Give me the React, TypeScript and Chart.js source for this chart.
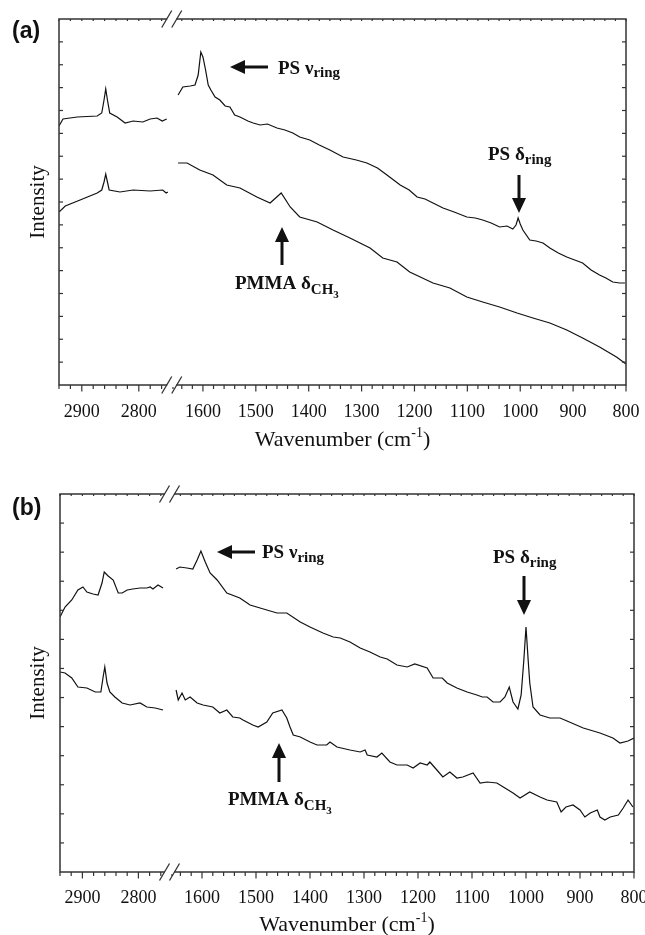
import React, { useEffect, useRef } from "react";
import { Chart, registerables } from "chart.js";

Chart.register(...registerables);

// ---------- axis ticks (wavenumber, cm-1) ----------
const TICKS_HIGH = [2940, 2920, 2900, 2880, 2860, 2840, 2820, 2800, 2780, 2760, 2740];
const TICKS_LOW = [
  1640, 1620, 1600, 1580, 1560, 1540, 1520, 1500, 1480, 1460, 1440, 1420, 1400, 1380, 1360,
  1340, 1320, 1300, 1280, 1260, 1240, 1220, 1200, 1180, 1160, 1140, 1120, 1100, 1080, 1060,
  1040, 1020, 1000, 980, 960, 940, 920, 900, 880, 860, 840, 820, 800,
];
const TICK_LABELS = [2900, 2800, 1600, 1500, 1400, 1300, 1200, 1100, 1000, 900, 800];

// ---------- panel (a) ----------
const A_TOP_WN = [
  2940, 2933, 2908, 2873, 2865, 2861, 2858, 2855, 2851, 2838, 2824, 2810, 2793, 2780, 2768, 2759, 2751,
  1647, 1638, 1624, 1615, 1609, 1604, 1600, 1595, 1590, 1585, 1577, 1568, 1558, 1549, 1540, 1530,
  1515, 1505, 1492, 1478, 1460, 1445, 1430, 1417, 1398, 1380, 1360, 1335, 1310, 1290, 1270, 1252,
  1227, 1210, 1195, 1180, 1165, 1146, 1125, 1101, 1085, 1071, 1055, 1039, 1025, 1014, 1008, 1004,
  1000, 995, 982, 970, 957, 944, 928, 912, 897, 882, 866, 850, 838, 825, 812, 802,
];
const A_TOP_INT = [
  259, 266, 268, 269, 272, 285, 296, 285, 272, 268, 262, 264, 263, 266, 267, 264, 266,
  290, 298, 299, 300, 310, 333, 328, 315, 300, 295, 288, 285, 279, 278, 270, 268,
  264, 262, 260, 261, 257, 255, 252, 248, 245, 240, 235, 228, 225, 222, 217, 210,
  200, 195, 188, 186, 182, 177, 173, 168, 167, 165, 162, 158, 159, 156, 160, 167,
  161, 155, 145, 144, 142, 137, 132, 128, 125, 122, 115, 110, 107, 103, 102, 102,
];
const A_BOT_WN = [
  2940, 2929, 2903, 2873, 2865, 2861, 2858, 2855, 2852, 2833, 2810, 2780, 2758, 2752, 2749,
  1647, 1630, 1606, 1581, 1555, 1530, 1498, 1473, 1452, 1435, 1417, 1384, 1354, 1322, 1284,
  1260, 1233, 1209, 1165, 1133, 1101, 1071, 1039, 1006, 976, 944, 912, 882, 850, 818, 800,
];
const A_BOT_INT = [
  173, 179, 185, 192, 195, 203, 211, 203, 195, 193, 195, 194, 195, 192, 193,
  222, 222, 215, 210, 200, 197, 188, 182, 192, 178, 168, 163, 155, 147, 137,
  127, 123, 113, 102, 97, 88, 83, 78, 72, 67, 62, 55, 47, 38, 28, 21,
];

// ---------- panel (b) ----------
const B_TOP_WN = [
  2940, 2931, 2919, 2908, 2899, 2892, 2881, 2872, 2865, 2861, 2854, 2845, 2836, 2829, 2820, 2810,
  2797, 2785, 2779, 2774, 2765, 2756,
  1648, 1641, 1628, 1617, 1609, 1602, 1594, 1585, 1572, 1554, 1530, 1511, 1480, 1461, 1443, 1418,
  1400, 1376, 1357, 1344, 1326, 1307, 1289, 1270, 1257, 1239, 1220, 1206, 1183, 1172, 1155, 1146,
  1128, 1109, 1091, 1081, 1072, 1061, 1048, 1039, 1031, 1024, 1015, 1009, 1004, 1000, 996, 993,
  987, 974, 956, 937, 924, 894, 863, 839, 826, 811, 800,
];
const B_TOP_INT = [
  255, 265, 272, 282, 285, 280, 278, 277, 289, 300, 296, 292, 279, 279, 282, 283,
  284, 284, 285, 283, 287, 284,
  303, 305, 304, 303, 312, 321, 310, 299, 292, 279, 274, 267, 262, 259, 259, 250,
  245, 239, 235, 234, 230, 224, 220, 215, 213, 207, 205, 208, 204, 194, 194, 189,
  184, 180, 177, 175, 175, 170, 170, 175, 185, 170, 163, 177, 212, 245, 212, 189,
  165, 157, 154, 154, 151, 144, 139, 134, 129, 131, 134,
];
const B_BOT_WN = [
  2940, 2931, 2919, 2908, 2892, 2877, 2867, 2863, 2860, 2856, 2851, 2842, 2829, 2815, 2797, 2785,
  2770, 2756,
  1648, 1644, 1637, 1631, 1622, 1609, 1598, 1580, 1567, 1554, 1543, 1530, 1524, 1506, 1496, 1480,
  1469, 1452, 1443, 1437, 1431, 1418, 1400, 1387, 1369, 1363, 1350, 1326, 1307, 1298, 1294, 1276,
  1267, 1252, 1239, 1220, 1209, 1196, 1183, 1178, 1165, 1154, 1141, 1128, 1117, 1098, 1085, 1072,
  1054, 1039, 1024, 1011, 993, 974, 961, 943, 935, 926, 913, 900, 891, 881, 868, 863, 854, 844,
  829, 820, 811, 802,
];
const B_BOT_INT = [
  200, 199, 194, 185, 184, 180, 180, 195, 205, 189, 180, 175, 169, 167, 169, 165,
  164, 162,
  182, 172, 179, 172, 175, 169, 167, 165, 159, 162, 155, 154, 152, 147, 145, 150,
  159, 162, 154, 145, 137, 135, 130, 127, 127, 130, 125, 122, 120, 122, 117, 115,
  119, 110, 107, 107, 104, 109, 107, 110, 102, 95, 100, 94, 95, 99, 89, 90,
  89, 84, 79, 74, 80, 75, 72, 70, 60, 65, 67, 62, 55, 59, 62, 55, 52, 55,
  57, 64, 72, 65,
];

// ---------- styling ----------
const SERIF = '"Liberation Serif", "Times New Roman", serif';
const SANS = '"Liberation Sans", Arial, sans-serif';
const AXIS_COLOR = "#333";
const LINE_COLOR = "#111";

type Part = { t: string; size: number; dy?: number };
type Note =
  | { kind: "arrow"; from: [number, number]; to: [number, number] }
  | { kind: "text"; x: number; y: number; parts: Part[] };

const PANEL_A = {
  top: 0,
  height: 470,
  pad: { left: 59, right: 19, top: 19, bottom: 85 },
  wL: 114,
  gap: 3.5,
  wR: 449.5,
  yMax: 366,
  yDiv: 16,
  breakShift: -3,
  letter: "(a)",
  letterY: 38,
  intensityY: 202,
  labelGap: 32,
  titleGap: 61,
  curves: [
    [A_TOP_WN, A_TOP_INT],
    [A_BOT_WN, A_BOT_INT],
  ],
  notes: [
    { kind: "arrow", from: [268, 67], to: [230, 67] },
    { kind: "text", x: 278, y: 74, parts: [{ t: "PS ν", size: 19 }, { t: "ring", size: 15, dy: 3 }] },
    { kind: "arrow", from: [519, 175], to: [519, 213] },
    { kind: "text", x: 488, y: 160, parts: [{ t: "PS δ", size: 19 }, { t: "ring", size: 15, dy: 4 }] },
    { kind: "arrow", from: [282, 265], to: [282, 227] },
    {
      kind: "text",
      x: 235,
      y: 289,
      parts: [{ t: "PMMA δ", size: 19 }, { t: "CH", size: 15, dy: 5 }, { t: "3", size: 11, dy: 9 }],
    },
  ] as Note[],
};

const PANEL_B = {
  top: 470,
  height: 465,
  pad: { left: 60, right: 11, top: 24, bottom: 63 },
  wL: 112,
  gap: 3,
  wR: 459,
  yMax: 378,
  yDiv: 13,
  breakShift: -4,
  letter: "(b)",
  letterY: 45,
  intensityY: 213,
  labelGap: 31,
  titleGap: 59,
  curves: [
    [B_TOP_WN, B_TOP_INT],
    [B_BOT_WN, B_BOT_INT],
  ],
  notes: [
    { kind: "arrow", from: [255, 82], to: [217, 82] },
    { kind: "text", x: 262, y: 88, parts: [{ t: "PS ν", size: 19 }, { t: "ring", size: 15, dy: 4 }] },
    { kind: "arrow", from: [524, 106], to: [524, 145] },
    { kind: "text", x: 493, y: 93, parts: [{ t: "PS δ", size: 19 }, { t: "ring", size: 15, dy: 4 }] },
    { kind: "arrow", from: [279, 312], to: [279, 273] },
    {
      kind: "text",
      x: 228,
      y: 335,
      parts: [{ t: "PMMA δ", size: 19 }, { t: "CH", size: 15, dy: 5 }, { t: "3", size: 11, dy: 9 }],
    },
  ] as Note[],
};

type PanelCfg = typeof PANEL_A;

// compressed (broken) x coordinate
function toU(wn: number, cfg: PanelCfg) {
  return wn >= 2000
    ? ((2940 - wn) / 200) * cfg.wL
    : cfg.wL + cfg.gap + ((1650 - wn) / 850) * cfg.wR;
}

function buildPoints(wns: number[], ints: number[], cfg: PanelCfg) {
  const pts: { x: number; y: number | null }[] = [];
  let prevHigh: boolean | null = null;
  wns.forEach((wn, i) => {
    const high = wn >= 2000;
    if (prevHigh === true && !high) pts.push({ x: cfg.wL + cfg.gap / 2, y: null });
    pts.push({ x: toU(wn, cfg), y: ints[i] });
    prevHigh = high;
  });
  return pts;
}

function line(ctx: CanvasRenderingContext2D, x1: number, y1: number, x2: number, y2: number) {
  ctx.beginPath();
  ctx.moveTo(x1, y1);
  ctx.lineTo(x2, y2);
  ctx.stroke();
}

function drawRich(ctx: CanvasRenderingContext2D, x: number, y: number, parts: Part[], bold: boolean, align: "left" | "center" = "left") {
  const fonts = parts.map((p) => `${bold ? "bold " : ""}${p.size}px ${SERIF}`);
  const widths = parts.map((p, i) => {
    ctx.font = fonts[i];
    return ctx.measureText(p.t).width;
  });
  let cx = align === "center" ? x - widths.reduce((a, b) => a + b, 0) / 2 : x;
  ctx.textAlign = "left";
  ctx.textBaseline = "alphabetic";
  parts.forEach((p, i) => {
    ctx.font = fonts[i];
    ctx.fillText(p.t, cx, y + (p.dy || 0));
    cx += widths[i];
  });
}

function drawArrow(ctx: CanvasRenderingContext2D, from: [number, number], to: [number, number]) {
  const [x1, y1] = from;
  const [x2, y2] = to;
  const ang = Math.atan2(y2 - y1, x2 - x1);
  const headLen = 15;
  const half = 7;
  const bx = x2 - Math.cos(ang) * headLen;
  const by = y2 - Math.sin(ang) * headLen;
  ctx.strokeStyle = "#111";
  ctx.lineWidth = 3;
  line(ctx, x1, y1, bx + Math.cos(ang) * 2, by + Math.sin(ang) * 2);
  ctx.fillStyle = "#111";
  ctx.beginPath();
  ctx.moveTo(x2, y2);
  ctx.lineTo(bx - Math.sin(ang) * half, by + Math.cos(ang) * half);
  ctx.lineTo(bx + Math.sin(ang) * half, by - Math.cos(ang) * half);
  ctx.closePath();
  ctx.fill();
}

function decorPlugin(cfg: PanelCfg) {
  return {
    id: "decor",
    afterDraw(chart: any) {
      const { ctx, chartArea: ca, scales } = chart;
      const xs = scales.x;
      const ys = scales.y;
      const px = (wn: number) => xs.getPixelForValue(toU(wn, cfg));
      ctx.save();

      // frame
      ctx.strokeStyle = AXIS_COLOR;
      ctx.lineWidth = 1.5;
      ctx.strokeRect(ca.left, ca.top, ca.right - ca.left, ca.bottom - ca.top);

      // y ticks (inward, both sides)
      ctx.lineWidth = 1.2;
      for (let i = 1; i < cfg.yDiv; i++) {
        const y = ys.getPixelForValue((cfg.yMax * i) / cfg.yDiv);
        line(ctx, ca.left, y, ca.left + 4, y);
        line(ctx, ca.right, y, ca.right - 4, y);
      }

      // x ticks
      [...TICKS_HIGH, ...TICKS_LOW].forEach((wn) => {
        const x = px(wn);
        const major = TICK_LABELS.includes(wn);
        line(ctx, x, ca.bottom, x, ca.bottom + (major ? 6.5 : 4));
        line(ctx, x, ca.top, x, ca.top + 2);
      });

      // tick labels
      ctx.fillStyle = "#111";
      ctx.font = `18px ${SERIF}`;
      ctx.textAlign = "center";
      ctx.textBaseline = "alphabetic";
      TICK_LABELS.forEach((wn) => {
        ctx.fillText(String(wn), px(wn), ca.bottom + cfg.labelGap);
      });

      // axis breaks
      const xc = (px(2740) + px(1650)) / 2 + cfg.breakShift;
      [ca.top, ca.bottom].forEach((y0) => {
        ctx.fillStyle = "#fff";
        ctx.fillRect(xc - 4.5, y0 - 2, 9, 4);
        ctx.strokeStyle = AXIS_COLOR;
        ctx.lineWidth = 1.3;
        line(ctx, xc - 10, y0 + 8.5, xc, y0 - 8.5);
        line(ctx, xc, y0 + 8.5, xc + 10, y0 - 8.5);
      });

      // axis titles
      ctx.fillStyle = "#111";
      drawRich(
        ctx,
        (ca.left + ca.right) / 2,
        ca.bottom + cfg.titleGap,
        [
          { t: "Wavenumber (cm", size: 22 },
          { t: "-1", size: 14, dy: -9 },
          { t: ")", size: 22 },
        ],
        false,
        "center"
      );
      ctx.save();
      ctx.translate(38, cfg.intensityY);
      ctx.rotate(-Math.PI / 2);
      ctx.font = `21px ${SERIF}`;
      ctx.textAlign = "center";
      ctx.textBaseline = "middle";
      ctx.fillText("Intensity", 0, 0);
      ctx.restore();

      // panel letter
      ctx.font = `bold 23px ${SANS}`;
      ctx.textAlign = "left";
      ctx.textBaseline = "alphabetic";
      ctx.fillText(cfg.letter, 12, cfg.letterY);

      // annotations
      cfg.notes.forEach((n) => {
        if (n.kind === "arrow") drawArrow(ctx, n.from, n.to);
        else {
          ctx.fillStyle = "#111";
          drawRich(ctx, n.x, n.y, n.parts, true);
        }
      });

      ctx.restore();
    },
  };
}

function Panel({ cfg }: { cfg: PanelCfg }) {
  const ref = useRef<HTMLCanvasElement>(null);
  useEffect(() => {
    const canvas = ref.current;
    if (!canvas) return;
    const chart = new Chart(canvas, {
      type: "line",
      data: {
        datasets: cfg.curves.map(([wn, it]) => ({
          data: buildPoints(wn as number[], it as number[], cfg),
          borderColor: LINE_COLOR,
          borderWidth: 1.2,
          pointRadius: 0,
          tension: 0,
          spanGaps: false,
          fill: false,
        })),
      },
      options: {
        responsive: false,
        animation: false,
        devicePixelRatio: 1,
        events: [],
        layout: { padding: cfg.pad },
        scales: {
          x: { type: "linear", min: 0, max: cfg.wL + cfg.gap + cfg.wR, display: false },
          y: { type: "linear", min: 0, max: cfg.yMax, display: false },
        },
        plugins: { legend: { display: false }, tooltip: { enabled: false } },
      },
      plugins: [decorPlugin(cfg)],
    } as any);
    return () => chart.destroy();
  }, [cfg]);
  return (
    <canvas
      ref={ref}
      width={645}
      height={cfg.height}
      style={{ position: "absolute", left: 0, top: cfg.top, width: 645, height: cfg.height, display: "block" }}
    />
  );
}

export default function App() {
  return (
    <div style={{ position: "absolute", left: 0, top: 0, width: 645, height: 935, background: "#fff", overflow: "hidden" }}>
      <Panel cfg={PANEL_A} />
      <Panel cfg={PANEL_B} />
    </div>
  );
}
